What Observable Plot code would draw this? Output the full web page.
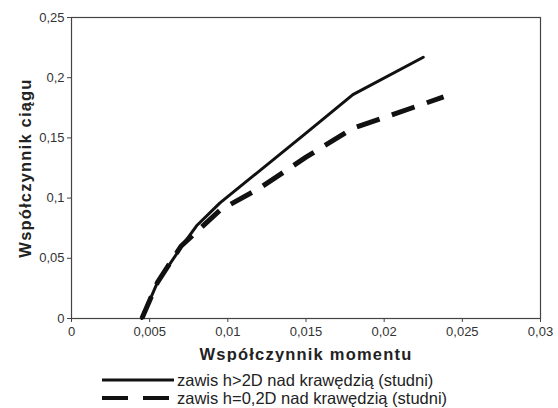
<!DOCTYPE html>
<html>
<head>
<meta charset="utf-8">
<script src="https://cdn.jsdelivr.net/npm/d3@7"></script>
<script src="https://cdn.jsdelivr.net/npm/@observablehq/plot@0.6"></script>
<style>
  body { margin: 0; background: #fff; font-family: "Liberation Sans", Arial, sans-serif; }
  #wrap { position: relative; width: 558px; height: 408px; }
  #chart svg { display: block; }
  g[aria-label="x-axis label"] text, g[aria-label="y-axis label"] text {
    font-weight: bold; font-size: 16.5px; fill: #222; letter-spacing: 1.2px;
  }
  #legend { position: absolute; left: 102px; top: 371px; font-size: 16.5px; color: #222; }
  .row { display: flex; align-items: center; height: 18px; }
  .row svg { display: block; margin-right: 3px; }
</style>
</head>
<body>
<div id="wrap">
  <div id="chart"></div>
  <div id="legend"></div>
</div>
<script>
const seriesNames = ["zawis h>2D nad krawędzią (studni)", "zawis h=0,2D nad krawędzią (studni)"];
const momentA = [0.0045, 0.0055, 0.007, 0.008, 0.0095, 0.015, 0.018, 0.0225];
const thrustA = [0, 0.03, 0.059, 0.077, 0.096, 0.154, 0.186, 0.217];
const momentB = [0.0045, 0.0055, 0.007, 0.008, 0.0095, 0.012, 0.015, 0.018, 0.0238];
const thrustB = [0, 0.03, 0.06, 0.072, 0.09, 0.108, 0.134, 0.158, 0.184];
const xTicks = [0, 0.005, 0.01, 0.015, 0.02, 0.025, 0.03];
const yTicks = [0, 0.05, 0.1, 0.15, 0.2, 0.25];

const dataA = momentA.map((m, i) => ({x: m, y: thrustA[i]}));
const dataB = momentB.map((m, i) => ({x: m, y: thrustB[i]}));
const fmt = d => String(d).replace(".", ",");

const chart = Plot.plot({
  width: 558,
  height: 362,
  marginLeft: 71,
  marginRight: 18,
  marginTop: 17,
  marginBottom: 44,
  style: {fontFamily: "'Liberation Sans', Arial, sans-serif", fontSize: "13px", color: "#333", background: "#fff"},
  x: {domain: [0, 0.03]},
  y: {domain: [0, 0.25]},
  marks: [
    Plot.frame({stroke: "#444", strokeWidth: 1.2}),
    Plot.axisX({ticks: xTicks, tickFormat: fmt, tickSize: 4, tickPadding: 4, stroke: "#444",
      label: "Współczynnik momentu", labelAnchor: "center", labelArrow: "none", labelOffset: 41}),
    Plot.axisY({ticks: yTicks, tickFormat: fmt, tickSize: 4, tickPadding: 3, stroke: "#444",
      label: "Współczynnik ciągu", labelAnchor: "center", labelArrow: "none", labelOffset: 52}),
    Plot.line(dataB, {x: "x", y: "y", stroke: "#111", strokeWidth: 5, strokeDasharray: "24,13", strokeLinecap: "butt"}),
    Plot.line(dataA, {x: "x", y: "y", stroke: "#111", strokeWidth: 3})
  ]
});
document.getElementById("chart").appendChild(chart);

const legend = document.getElementById("legend");
seriesNames.forEach((name, i) => {
  const row = document.createElement("div");
  row.className = "row";
  const dash = i === 0 ? "" : 'stroke-dasharray="26,15"';
  const sw = i === 0 ? 3 : 4;
  row.innerHTML = `<svg width="72" height="18"><line x1="0" x2="72" y1="9" y2="9" stroke="#111" stroke-width="${sw}" ${dash}/></svg><span>${name}</span>`;
  legend.appendChild(row);
});
</script>
</body>
</html>
